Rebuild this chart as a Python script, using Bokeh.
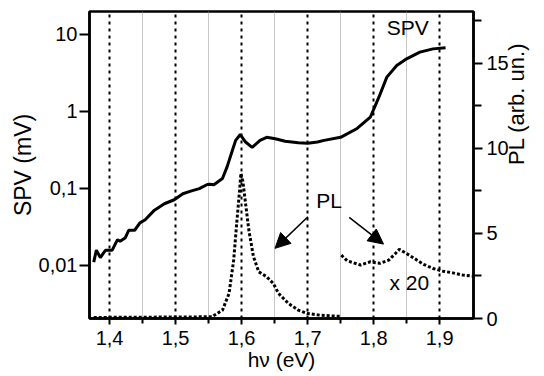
import math
from bokeh.plotting import figure
from bokeh.models import (Range1d, LinearAxis, LinearScale, FixedTicker,
                          CustomJSTickFormatter, Label, Arrow, NormalHead)
from bokeh.embed import file_html
from bokeh.resources import INLINE

# ---- data ----
spv_x = [1.376, 1.380, 1.386, 1.394, 1.404, 1.412, 1.416, 1.424, 1.429, 1.438,
         1.446, 1.454, 1.468, 1.483, 1.498, 1.511, 1.523, 1.536, 1.548, 1.552,
         1.558, 1.571, 1.578, 1.586, 1.591, 1.598, 1.606, 1.616, 1.628, 1.638,
         1.651, 1.666, 1.686, 1.700, 1.715, 1.725, 1.750, 1.775, 1.795, 1.808,
         1.820, 1.835, 1.850, 1.870, 1.890, 1.909]
spv_y = [0.011, 0.0157, 0.0126, 0.0157, 0.0157, 0.0215, 0.0205, 0.0228, 0.0285, 0.0285,
         0.0355, 0.039, 0.052, 0.063, 0.071, 0.085, 0.092, 0.099, 0.112, 0.113,
         0.111, 0.134, 0.19, 0.31, 0.42, 0.50, 0.40, 0.34, 0.42, 0.46,
         0.44, 0.41, 0.39, 0.385, 0.40, 0.42, 0.46, 0.60, 0.84, 1.53,
         2.79, 3.95, 4.83, 5.89, 6.5, 6.7]

pl_x = [1.376, 1.555, 1.571, 1.581, 1.588, 1.593, 1.597, 1.599, 1.602, 1.606,
        1.611, 1.618, 1.626, 1.638, 1.648, 1.656, 1.671, 1.686, 1.700, 1.720,
        1.743, 1.750]
pl_y = [0.06, 0.1, 0.49, 1.47, 3.43, 5.78, 7.55, 8.53, 8.04, 6.76,
        5.19, 3.62, 2.74, 2.45, 2.06, 1.47, 0.88, 0.49, 0.29, 0.19,
        0.14, 0.13]

plx20_x = [1.751, 1.760, 1.780, 1.795, 1.810, 1.823, 1.833, 1.839, 1.848, 1.860,
           1.875, 1.890, 1.905, 1.920, 1.935, 1.950]
plx20_y = [3.72, 3.39, 3.14, 3.33, 3.24, 3.43, 3.82, 4.06, 3.86, 3.57,
           3.19, 2.94, 2.78, 2.68, 2.55, 2.49]

x_ticks = [1.4, 1.5, 1.6, 1.7, 1.8, 1.9]
x_minor = [1.45, 1.55, 1.65, 1.75, 1.85]
spv_ticks = [0.01, 0.1, 1, 10]
pl_ticks = [0, 5, 10, 15]
pl_minor = [2.5, 7.5, 12.5, 17.5]

FONT = "Liberation Sans"

p = figure(width=544, height=376, output_backend="svg", toolbar_location=None,
           x_range=Range1d(1.3696, 1.9513), y_range=Range1d(0.00203, 19.9),
           y_axis_type="log",
           min_border_left=89, min_border_right=66, min_border_top=11,
           min_border_bottom=58)
p.extra_y_ranges = {"pl": Range1d(0, 18.03)}
p.extra_y_scales = {"pl": LinearScale()}

p.background_fill_color = "white"
p.border_fill_color = "white"
p.outline_line_color = "black"
p.outline_line_width = 2.5

# grids
p.ygrid.visible = False
p.xgrid.grid_line_color = "black"
p.xgrid.grid_line_dash = "3 4"
p.xgrid.grid_line_width = 2
p.xgrid.minor_grid_line_color = "#8c8c8c"
p.xgrid.minor_grid_line_dash = "1 1"
p.xgrid.minor_grid_line_width = 1

# x axis
xa = p.xaxis[0]
xa.ticker = FixedTicker(ticks=x_ticks, minor_ticks=x_minor)
xa.formatter = CustomJSTickFormatter(code="return tick.toFixed(1).replace('.', ',');")
xa.axis_line_width = 2.5
xa.major_tick_line_width = 2
xa.minor_tick_line_width = 2
xa.major_tick_in = 0
xa.major_tick_out = 6
xa.minor_tick_in = 0
xa.minor_tick_out = 5
xa.major_label_standoff = 6
xa.major_label_text_font = FONT
xa.major_label_text_font_size = "20px"
xa.major_label_text_color = "black"
xa.axis_label = "h\u03bd (eV)"
xa.axis_label_standoff = 0
xa.axis_label_text_font = FONT
xa.axis_label_text_font_size = "21px"
xa.axis_label_text_font_style = "normal"
xa.axis_label_text_color = "black"

# left log axis
ya = p.yaxis[0]
ya.ticker = FixedTicker(ticks=spv_ticks)
ya.formatter = CustomJSTickFormatter(code="return String(tick).replace('.', ',');")
ya.axis_line_width = 2.5
ya.major_tick_line_width = 2
ya.major_tick_in = 0
ya.major_tick_out = 10
ya.minor_tick_line_color = None
ya.major_label_standoff = 2
ya.major_label_text_font = FONT
ya.major_label_text_font_size = "20px"
ya.major_label_text_color = "black"
ya.axis_label = "SPV (mV)"
ya.axis_label_standoff = 0
ya.axis_label_text_font = FONT
ya.axis_label_text_font_size = "23px"
ya.axis_label_text_font_style = "normal"
ya.axis_label_text_color = "black"

# right axis (ticks)
ra = LinearAxis(y_range_name="pl",
                ticker=FixedTicker(ticks=pl_ticks, minor_ticks=pl_minor))
ra.axis_line_width = 2.5
ra.major_tick_line_width = 2
ra.minor_tick_line_width = 2
ra.major_tick_in = 0
ra.major_tick_out = 9
ra.minor_tick_in = 0
ra.minor_tick_out = 8
ra.major_label_standoff = 4
ra.major_label_text_font = FONT
ra.major_label_text_font_size = "20px"
ra.major_label_text_color = "black"
p.add_layout(ra, "right")

# right axis title
rt = LinearAxis(y_range_name="pl", ticker=FixedTicker(ticks=[]))
rt.axis_line_color = None
rt.major_tick_line_color = None
rt.minor_tick_line_color = None
rt.major_label_text_font_size = "0px"
rt.major_label_standoff = 0
rt.major_tick_out = 0
rt.minor_tick_out = 0
rt.axis_label = "PL (arb. un.)"
rt.axis_label_standoff = 5
rt.axis_label_text_font = FONT
rt.axis_label_text_font_size = "22px"
rt.axis_label_text_font_style = "normal"
rt.axis_label_text_color = "black"
if "axis_label_orientation" in LinearAxis.properties():
    rt.axis_label_orientation = math.pi / 2
p.add_layout(rt, "right")

# curves
p.line(spv_x, spv_y, line_color="black", line_width=3)
p.line(pl_x, pl_y, y_range_name="pl", line_color="black", line_width=3,
       line_dash="3 2")
p.line(plx20_x, plx20_y, y_range_name="pl", line_color="black", line_width=3,
       line_dash="3 2")

# arrows
head1 = NormalHead(size=15, fill_color="black", line_color="black")
head2 = NormalHead(size=15, fill_color="black", line_color="black")
p.add_layout(Arrow(end=head1, x_start=1.7005, y_start=5.98, x_end=1.6506, y_end=4.12,
                   y_range_name="pl", line_width=1.5, line_color="black"))
p.add_layout(Arrow(end=head2, x_start=1.763, y_start=5.94, x_end=1.815, y_end=4.37,
                   y_range_name="pl", line_width=1.5, line_color="black"))

def lab(x, y, text):
    p.add_layout(Label(x=x, y=y, y_range_name="pl", text=text,
                       text_align="left", text_baseline="alphabetic",
                       text_font=FONT, text_font_size="21px", text_color="black"))

lab(1.820, 17.08, "SPV")
lab(1.713, 6.94, "PL")
lab(1.824, 2.10, "x 20")

open("out.html", "w").write(file_html(p, INLINE))
